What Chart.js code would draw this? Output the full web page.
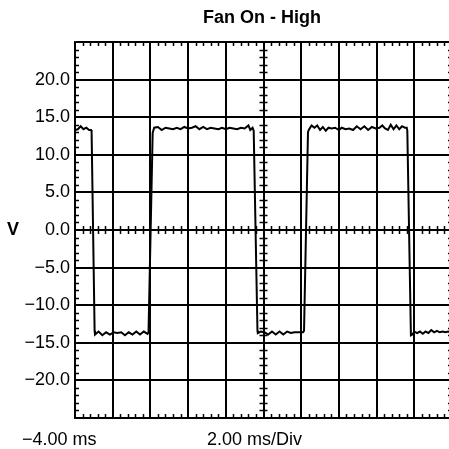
<!DOCTYPE html>
<html>
<head>
<meta charset="utf-8">
<script src="https://cdn.jsdelivr.net/npm/chart.js@4/dist/chart.umd.min.js"></script>
<style>
  html, body { margin: 0; padding: 0; background: #fff; overflow: hidden; }
  #wrap { width: 460px; height: 449px; }
</style>
</head>
<body>
<div id="wrap"><canvas id="c" width="460" height="449"></canvas></div>
<script>
// ---- data ----
const titleText = "Fan On - High";
const yAxisLabel = "V";
const xStartLabel = "\u22124.00 ms";
const xScaleLabel = "2.00 ms/Div";
const yTickValues = [-20, -15, -10, -5, 0, 5, 10, 15, 20];
const timeMs = [
  -4.0, -3.85, -3.7, -3.55, -3.4, -3.25, -3.15,
  -3.12, -2.96,
  -2.94, -2.75, -2.55, -2.35, -2.15, -1.95, -1.75, -1.55, -1.35, -1.15, -0.95, -0.75, -0.55, -0.35, -0.15, -0.1,
  -0.08, 0.12,
  0.2, 0.4, 0.6, 0.8, 1.0, 1.2, 1.4, 1.6, 1.8, 2.0, 2.2, 2.4, 2.6, 2.8, 3.0, 3.2, 3.4, 3.6, 3.8, 4.0, 4.2, 4.4, 4.6, 4.8, 5.0, 5.2, 5.3, 5.42,
  5.48, 5.68,
  5.7, 5.85, 6.05, 6.25, 6.45, 6.65, 6.85, 7.05, 7.25, 7.45, 7.65, 7.85, 8.1,
  8.15, 8.36,
  8.4, 8.55, 8.7, 8.85, 9.0, 9.15, 9.3, 9.45, 9.6, 9.8, 10.0, 10.15, 10.35, 10.55, 10.75, 10.95, 11.15, 11.35, 11.55, 11.75, 11.95, 12.15, 12.3, 12.45, 12.6, 12.75, 12.9, 13.05, 13.2, 13.35, 13.5, 13.6,
  13.63, 13.82,
  13.9, 14.0, 14.15, 14.3, 14.45, 14.6, 14.75, 14.9, 15.05, 15.2, 15.35, 15.5, 15.65, 15.8, 16.0
];
const volts = [
  13.3, 13.4, 13.8, 13.4, 13.6, 13.3, 13.3,
  13.1, -13.4,
  -13.9, -13.5, -14.0, -13.6, -13.9, -13.6, -13.7, -13.6, -14.0, -13.6, -13.9, -13.5, -13.9, -13.5, -13.8, -13.6,
  -13.6, 12.9,
  13.6, 13.7, 13.3, 13.6, 13.5, 13.4, 13.6, 13.4, 13.7, 13.5, 13.6, 13.8, 13.4, 13.7, 13.4, 13.6, 13.5, 13.4, 13.6, 13.4, 13.6, 13.5, 13.4, 13.6, 13.5, 13.9, 13.3, 13.6,
  13.2, -13.4,
  -13.7, -13.5, -13.6, -13.9, -13.5, -13.9, -13.5, -13.9, -13.5, -13.7, -13.6, -13.6, -13.6,
  -13.4, 13.0,
  13.3, 13.9, 13.6, 13.9, 13.3, 13.7, 13.2, 13.6, 13.5, 13.6, 13.3, 13.6, 13.4, 13.5, 13.3, 13.8, 13.4, 13.8, 13.3, 13.7, 13.5, 13.6, 13.9, 13.5, 13.3, 14.0, 13.4, 13.9, 13.4, 13.8, 13.6, 13.6,
  13.2, -14.0,
  -13.9, -13.5, -13.7, -13.5, -13.8, -13.5, -13.7, -13.3, -13.6, -13.4, -13.6, -13.5, -13.6, -13.5, -13.6
];

const FONT = '"Liberation Sans", Arial, Helvetica, sans-serif';

// minor ticks + free text drawn with the scales
const scopePlugin = {
  id: 'scope',
  afterDatasetsDraw(chart) {
    const {ctx, chartArea: a, scales: {x, y}} = chart;
    ctx.save();
    ctx.strokeStyle = '#000';
    ctx.lineWidth = 1.5;
    const L = 4;
    const xc = x.getPixelForValue(6), y0 = y.getPixelForValue(0);
    ctx.beginPath();
    for (let i = 0; i <= 50; i++) {
      if (i % 5 === 0) continue;
      const t = -4 + i * 0.4;
      const px = Math.round(x.getPixelForValue(t)) + 0.5;
      ctx.moveTo(px, a.top); ctx.lineTo(px, a.top + L);
      ctx.moveTo(px, a.bottom); ctx.lineTo(px, a.bottom - L);
      ctx.moveTo(px, y0 - L); ctx.lineTo(px, y0 + L);
    }
    for (let i = 0; i <= 50; i++) {
      if (i % 5 === 0) continue;
      const v = -25 + i;
      const py = Math.round(y.getPixelForValue(v)) + 0.5;
      ctx.moveTo(a.left, py); ctx.lineTo(a.left + L, py);
      ctx.moveTo(a.right, py); ctx.lineTo(a.right - L, py);
      ctx.moveTo(xc - L, py); ctx.lineTo(xc + L, py);
    }
    ctx.stroke();

    ctx.fillStyle = '#000';
    ctx.textBaseline = 'middle';
    ctx.font = 'bold 18px ' + FONT;
    ctx.textAlign = 'center';
    ctx.fillText(titleText, 262, 18);
    ctx.textAlign = 'left';
    ctx.fillText(yAxisLabel, 7, y0);
    ctx.font = '18px ' + FONT;
    ctx.fillText(xStartLabel, 22, 440);
    ctx.fillText(xScaleLabel, 207, 440);
    ctx.restore();
  }
};

new Chart(document.getElementById('c'), {
  type: 'scatter',
  data: {
    datasets: [{
      data: timeMs.map((t, i) => ({x: t, y: volts[i]})),
      showLine: true,
      borderColor: '#000',
      borderWidth: 2,
      pointRadius: 0,
      tension: 0,
      fill: false
    }]
  },
  options: {
    responsive: false,
    animation: false,
    devicePixelRatio: 1,
    layout: { padding: { top: 42, right: 8, left: 0, bottom: 0 } },
    plugins: { legend: { display: false }, tooltip: { enabled: false }, title: { display: false } },
    scales: {
      x: {
        type: 'linear', min: -4, max: 16,
        afterFit(s) { s.height = 31; },
        ticks: { display: false, stepSize: 2 },
        grid: { color: '#000', lineWidth: 2, drawTicks: false },
        border: { display: true, color: '#000', width: 1.5 }
      },
      y: {
        type: 'linear', min: -25, max: 25,
        afterFit(s) { s.width = 75; },
        afterBuildTicks(s) { s.ticks = [-25].concat(yTickValues, [25]).map(v => ({value: v})); },
        ticks: {
          padding: 5,
          color: '#000',
          font: { family: FONT, size: 18 },
          callback: v => (v === 25 || v === -25) ? '' : (v < 0 ? '\u2212' + Math.abs(v).toFixed(1) : v.toFixed(1))
        },
        grid: { color: '#000', lineWidth: 2, drawTicks: false },
        border: { display: true, color: '#000', width: 1.5 }
      }
    }
  },
  plugins: [scopePlugin]
});
</script>
</body>
</html>
